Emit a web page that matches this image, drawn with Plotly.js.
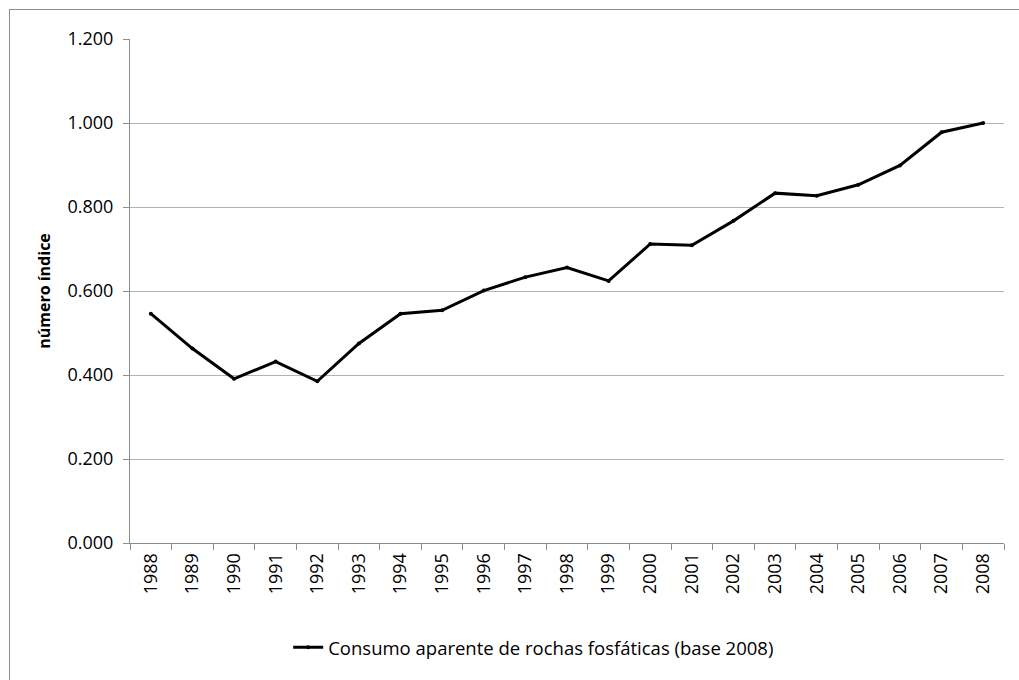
<!DOCTYPE html>
<html>
<head>
<meta charset="utf-8">
<script src="https://cdn.plot.ly/plotly-3.0.1.min.js"></script>
<style>
  html, body { margin: 0; padding: 0; background: #ffffff; overflow: hidden; }
  #wrap { position: relative; width: 1019px; height: 680px; }
  #frame { position: absolute; left: 9px; top: 9px; width: 1100px; height: 800px;
           border-left: 1px solid #8c8c8c; border-top: 1px solid #8c8c8c; pointer-events: none; }
  #chart { position: absolute; left: 0; top: 0; width: 1019px; height: 680px; }
</style>
</head>
<body>
<div id="wrap">
  <div id="chart"></div>
  <div id="frame"></div>
</div>
<script>
const years = ["1988","1989","1990","1991","1992","1993","1994","1995","1996","1997","1998",
               "1999","2000","2001","2002","2003","2004","2005","2006","2007","2008"];
const indexValues = [0.546, 0.463, 0.391, 0.432, 0.385, 0.475, 0.546, 0.554, 0.601, 0.633, 0.656,
                     0.624, 0.712, 0.709, 0.767, 0.833, 0.827, 0.853, 0.899, 0.978, 1.000];
const seriesName = "Consumo aparente de rochas fosfáticas (base 2008)";
const yTitle = "número índice";

const FONT = "Open Sans, Lato, Liberation Sans, sans-serif";

const trace = {
  type: "scatter",
  mode: "lines+markers",
  x: years,
  y: indexValues,
  name: seriesName,
  line: { color: "#000000", width: 3 },
  marker: { color: "#000000", size: 4, symbol: "circle" },
  showlegend: true
};

const layout = {
  width: 1019,
  height: 680,
  margin: { l: 130, r: 15, t: 39, b: 137 },
  paper_bgcolor: "#ffffff",
  plot_bgcolor: "#ffffff",
  font: { family: FONT, size: 18, color: "#000000" },
  xaxis: {
    type: "category",
    range: [-0.5, years.length - 0.5],
    tickangle: -90,
    ticks: "outside",
    tickson: "boundaries",
    ticklen: 6,
    tickcolor: "#8c8c8c",
    tickwidth: 1,
    showline: true,
    linecolor: "#8c8c8c",
    linewidth: 1,
    showgrid: false,
    ticklabelstandoff: 2,
    tickfont: { family: FONT, size: 18, color: "#000000" }
  },
  yaxis: {
    range: [0, 1.2],
    dtick: 0.2,
    tick0: 0,
    tickformat: ".3f",
    ticks: "outside",
    ticklen: 6,
    tickcolor: "#8c8c8c",
    showline: true,
    linecolor: "#8c8c8c",
    linewidth: 1,
    showgrid: true,
    gridcolor: "#b3b3b3",
    gridwidth: 1,
    zeroline: false,
    ticklabelstandoff: 6,
    tickfont: { family: FONT, size: 18, color: "#000000" },
    title: { text: yTitle, font: { family: FONT, size: 16, color: "#000000", weight: "bold" }, standoff: 12 }
  },
  legend: {
    orientation: "h",
    x: 0.181,
    xanchor: "left",
    y: -0.208,
    yanchor: "middle",
    font: { family: FONT, size: 18.5, color: "#000000" },
    bgcolor: "rgba(0,0,0,0)",
    itemwidth: 30
  },
  showlegend: true
};

Plotly.newPlot("chart", [trace], layout, { staticPlot: true, displayModeBar: false });
</script>
</body>
</html>
